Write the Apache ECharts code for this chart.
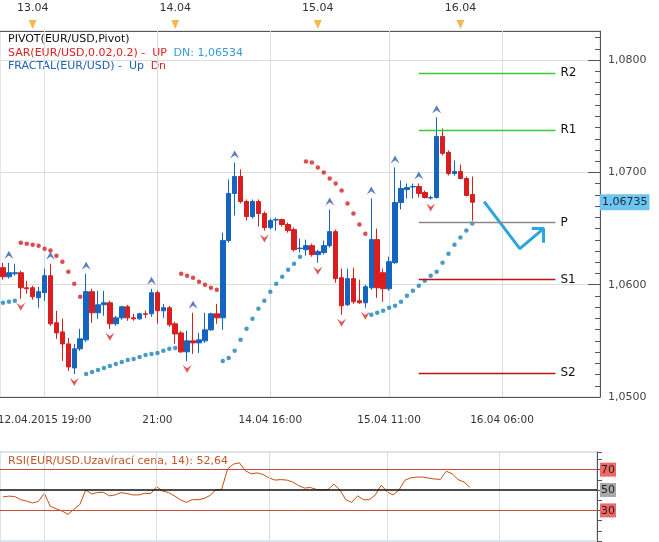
<!DOCTYPE html>
<html>
<head>
<meta charset="utf-8">
<script src="https://cdn.jsdelivr.net/npm/echarts@6/dist/echarts.min.js"></script>
<style>
  html, body { margin: 0; padding: 0; background: #fff; }
  #main { width: 659px; height: 542px; }
</style>
</head>
<body>
<div id="main"></div>
<script>
// hourly bars, 80 with data, rest empty space on the right
var candleCount = 101;
var categories = [];
for (var i = 0; i < candleCount; i++) categories.push(String(i));

// [open, close, low, high]
var candles = [
  [1.06152,1.06071,1.06045,1.06196],[1.06071,1.06107,1.06054,1.06196],[1.06098,1.06107,1.06080,1.06187],
  [1.06107,1.05973,1.05875,1.06125],[1.05973,1.05964,1.05920,1.06036],[1.05973,1.05893,1.05866,1.05991],
  [1.05884,1.05938,1.05795,1.05982],[1.05929,1.06080,1.05857,1.06143],[1.06080,1.05652,1.05634,1.06187],
  [1.05661,1.05571,1.05518,1.05768],[1.05580,1.05473,1.05321,1.05696],[1.05473,1.05268,1.05232,1.05527],
  [1.05259,1.05429,1.05205,1.05473],[1.05429,1.05518,1.05411,1.05607],[1.05509,1.05938,1.05491,1.06098],
  [1.05938,1.05750,1.05661,1.05964],[1.05750,1.05821,1.05696,1.05946],[1.05821,1.05839,1.05723,1.05946],
  [1.05839,1.05652,1.05607,1.05857],[1.05652,1.05705,1.05634,1.05723],[1.05705,1.05804,1.05688,1.05812],
  [1.05804,1.05705,1.05679,1.05821],[1.05705,1.05696,1.05679,1.05741],[1.05696,1.05741,1.05688,1.05750],
  [1.05741,1.05737,1.05705,1.05768],[1.05741,1.05929,1.05714,1.05964],[1.05929,1.05768,1.05652,1.05946],
  [1.05768,1.05795,1.05705,1.05830],[1.05795,1.05643,1.05625,1.05812],[1.05652,1.05562,1.05473,1.05670],
  [1.05571,1.05402,1.05393,1.05589],[1.05402,1.05500,1.05321,1.05589],[1.05500,1.05482,1.05384,1.05750],
  [1.05482,1.05509,1.05393,1.05571],[1.05500,1.05598,1.05482,1.05750],[1.05598,1.05741,1.05589,1.05750],
  [1.05741,1.05705,1.05652,1.05830],[1.05705,1.06393,1.05598,1.06464],[1.06393,1.06813,1.06375,1.06938],
  [1.06813,1.06964,1.06616,1.07089],[1.06964,1.06741,1.06723,1.07027],[1.06741,1.06607,1.06571,1.06759],
  [1.06607,1.06741,1.06589,1.06759],[1.06741,1.06634,1.06518,1.06759],[1.06634,1.06509,1.06482,1.06652],
  [1.06509,1.06571,1.06491,1.06589],[1.06576,1.06580,1.06482,1.06598],[1.06580,1.06536,1.06518,1.06589],
  [1.06536,1.06482,1.06464,1.06554],[1.06491,1.06312,1.06295,1.06509],[1.06321,1.06326,1.06286,1.06411],
  [1.06312,1.06348,1.06259,1.06402],[1.06348,1.06268,1.06250,1.06366],[1.06268,1.06295,1.06196,1.06312],
  [1.06286,1.06348,1.06268,1.06393],[1.06348,1.06473,1.06330,1.06670],[1.06473,1.06054,1.06018,1.06491],
  [1.06062,1.05812,1.05732,1.06143],[1.05821,1.06054,1.05812,1.06143],[1.06054,1.05848,1.05830,1.06152],
  [1.05857,1.05839,1.05830,1.06045],[1.05839,1.05982,1.05795,1.06000],[1.05973,1.06402,1.05955,1.06768],
  [1.06402,1.05973,1.05884,1.06500],[1.06107,1.05964,1.05848,1.06143],[1.05964,1.06205,1.05946,1.06250],
  [1.06196,1.06732,1.06187,1.07045],[1.06732,1.06857,1.06670,1.06929],[1.06848,1.06866,1.06768,1.06902],
  [1.06871,1.06875,1.06768,1.06902],[1.06875,1.06813,1.06777,1.06902],[1.06821,1.06777,1.06768,1.06839],
  [1.06772,1.06777,1.06759,1.06795],[1.06777,1.07321,1.06768,1.07491],[1.07321,1.07170,1.07152,1.07393],
  [1.07179,1.06991,1.06973,1.07196],[1.06991,1.07009,1.06973,1.07107],[1.07009,1.06946,1.06938,1.07071],
  [1.06946,1.06795,1.06786,1.06964],[1.06804,1.06735,1.06571,1.06964]
];

var sarValues = [
  1.05839,1.05848,1.05857,
  1.06375,1.06366,1.06357,1.06348,1.06321,1.06304,1.06259,1.06205,1.06116,1.06009,1.05893,
  1.05205,1.05223,1.05241,1.05259,1.05277,1.05295,1.05312,1.05330,1.05339,1.05357,1.05375,1.05384,1.05393,1.05411,1.05429,1.05437,
  1.06098,1.06080,1.06062,1.06027,1.06000,1.05973,1.05955,
  1.05321,1.05348,1.05411,1.05509,1.05607,1.05696,1.05786,1.05857,1.05938,1.06009,1.06071,1.06134,1.06187,1.06250,
  1.07098,1.07089,1.07045,1.07000,1.06946,1.06902,1.06839,1.06723,1.06634,1.06536,1.06455,
  1.05732,1.05750,1.05768,1.05795,1.05812,1.05848,1.05902,1.05946,1.05991,1.06036,1.06080,1.06116,1.06196,1.06277,1.06357,1.06420,1.06482,1.06545
];
var sarAboveRanges = [[3, 13], [30, 36], [51, 61]];

var fractalUpIdx = [1, 8, 14, 25, 32, 39, 55, 62, 66, 70, 73];
var fractalDnIdx = [3, 12, 18, 31, 44, 53, 57, 61, 72];

var rsiValues = [
  43.3,44,43.6,40.5,39.2,37.3,38.9,46.8,34.1,31.6,29.4,26.2,31,35.7,50,46.2,47.5,47.8,44.3,45.2,
  47.5,46.5,45.2,45.2,46.8,46.5,53.2,49,47.5,44.3,40.5,37.9,40.5,40.5,41.7,44.6,50,50.6,70.6,75.4,
  76.7,69,65.9,66.8,65.2,62,59.8,60.2,59.8,57.9,54.4,51.9,52.5,50.6,50,50.6,55.7,50,40.5,37.9,
  44.3,40.5,40.5,45.2,54.8,48.1,45.2,50,59.5,62,62.7,62.7,61.7,60.8,60.5,68.4,65.9,60.2,57.9,52.6
];

var pivotNames = ['R2', 'R1', 'P', 'S1', 'S2'];
var pivotValues = [1.07884, 1.07375, 1.06554, 1.06045, 1.05214];
var pivotColors = ['#33cc33', '#33cc33', '#888888', '#c01010', '#c01010'];
var pivotRange = [70, 93];
var lastPrice = 1.06735;

var dayLabels = ['13.04', '14.04', '15.04', '16.04'];
var dayIdx = [5, 29, 53, 77];
var timeLabels = ['12.04.2015 19:00', '21:00', '14.04 16:00', '15.04 11:00', '16.04 06:00'];
var timeIdx = [7, 26, 45, 65, 84];

var arrowPath = [[81, 1.06741], [87, 1.06321], [91, 1.06500]];
var arrowHead = [[89, 1.06500], [91, 1.06500], [91, 1.06375]];

var sarRed = [], sarBlue = [];
sarValues.forEach(function (v, i) {
  var above = sarAboveRanges.some(function (r) { return i >= r[0] && i <= r[1]; });
  (above ? sarRed : sarBlue).push([i, v]);
});
var fracUp = fractalUpIdx.map(function (k) { return [k, candles[k][3]]; });
var fracDn = fractalDnIdx.map(function (k) { return [k, candles[k][2]]; });

function fmtPrice(v, d) { return v.toFixed(d).replace('.', ','); }

var chart = echarts.init(document.getElementById('main'));
var font = 'DejaVu Sans';
var isTime = function (idx) { return timeIdx.indexOf(idx) >= 0; };
var vGrid = timeIdx.map(function (k) {
  return { xAxis: k, lineStyle: { color: '#dcdcdc', width: 1, type: 'solid' }, label: { show: false } };
});

var pivotSeries = pivotValues.map(function (v, k) {
  return {
    type: 'line', xAxisIndex: 0, yAxisIndex: 0, data: [], showSymbol: false,
    markLine: { silent: true, symbol: 'none',
      lineStyle: { color: pivotColors[k], width: 1.4, type: 'solid', opacity: 1 },
      label: { show: true, position: 'end', formatter: pivotNames[k], color: '#111', fontSize: 12,
        fontFamily: font, padding: [14, 0, 0, 0] },
      data: [[{ coord: [pivotRange[0], v] }, { coord: [pivotRange[1], v] }]] }
  };
});

var option = {
  animation: false,
  backgroundColor: '#fff',
  textStyle: { fontFamily: font },
  grid: [
    { left: 0, right: 59, top: 31, height: 366, show: true, borderColor: '#c8d0d8', borderWidth: 1, outerBoundsMode: 'none' },
    { left: 0, right: 62, top: 452, height: 89, show: true, borderColor: '#b8c8d8', borderWidth: 1, outerBoundsMode: 'none' },
    { left: 0, right: 59, top: 18, height: 13, outerBoundsMode: 'none' }
  ],
  xAxis: [
    { type: 'category', data: categories, gridIndex: 0,
      axisLine: { lineStyle: { color: '#555' } },
      axisTick: { interval: 2, length: 6, lineStyle: { color: '#555' } },
      axisLabel: { interval: function (idx) { return isTime(idx); }, margin: 18, color: '#333', fontSize: 10.5,
        hideOverlap: false,
        formatter: function (v, idx) { return timeLabels[timeIdx.indexOf(idx)] || ''; } },
      splitLine: { show: false } },
    { type: 'category', data: categories, gridIndex: 1,
      axisLine: { show: false }, axisTick: { show: false }, axisLabel: { show: false }, splitLine: { show: false } },
    { type: 'category', data: categories, gridIndex: 2, position: 'top',
      axisLine: { lineStyle: { color: '#555' } },
      axisTick: { interval: 2, inside: true, length: 6, lineStyle: { color: '#555' } },
      axisLabel: { interval: function (idx) { return dayIdx.indexOf(idx) >= 0; }, margin: 4, color: '#333', fontSize: 11,
        formatter: function (v, idx) { return dayLabels[dayIdx.indexOf(idx)] || ''; } } }
  ],
  yAxis: [
    { type: 'value', gridIndex: 0, position: 'right', min: 1.05, max: 1.0826, interval: 0.01,
      axisLine: { show: true, lineStyle: { color: '#555' } },
      axisTick: { show: true, inside: true, length: 12, lineStyle: { color: '#555' } },
      axisLabel: { color: '#444', fontSize: 11, margin: 8, showMaxLabel: false,
        formatter: function (v) { return fmtPrice(v, 4); } },
      splitLine: { show: true, lineStyle: { color: '#dcdcdc' } } },
    { type: 'value', gridIndex: 0, position: 'right', min: 1.05, max: 1.0826, interval: 0.001,
      axisLine: { show: false }, axisLabel: { show: false }, splitLine: { show: false },
      axisTick: { show: true, inside: true, length: 5, lineStyle: { color: '#555' } } },
    { type: 'value', gridIndex: 1, position: 'right', min: 0, max: 87.3, interval: 10,
      axisLine: { show: true, lineStyle: { color: '#555' } },
      axisTick: { show: true, length: 5, lineStyle: { color: '#555' } },
      axisLabel: { margin: 3, fontSize: 11, color: '#222',
        formatter: function (v) { return v === 70 ? '{r|70}' : v === 30 ? '{r|30}' : v === 50 ? '{g|50}' : ''; },
        rich: { r: { backgroundColor: '#f06868', padding: [2, 1, 1, 1], fontSize: 11, fontFamily: font, color: '#222' },
                g: { backgroundColor: '#a8a8a8', padding: [2, 1, 1, 1], fontSize: 11, fontFamily: font, color: '#222' } } },
      splitLine: { show: false } },
    { type: 'value', gridIndex: 2, min: 0, max: 1, show: false }
  ],
  graphic: [
    { type: 'text', left: 8, top: 34, style: { text: 'PIVOT(EUR/USD,Pivot)', fill: '#111', font: '11px "DejaVu Sans"' } },
    { type: 'text', left: 8, top: 47, style: {
      text: '{a|SAR(EUR/USD,0.02,0.2) -  UP}  {b|DN: 1,06534}',
      rich: { a: { fill: '#e02020', font: '11px "DejaVu Sans"' }, b: { fill: '#3a9ad6', font: '11px "DejaVu Sans"' } } } },
    { type: 'text', left: 8, top: 60, style: {
      text: '{a|FRACTAL(EUR/USD) -  Up}  {b|Dn}',
      rich: { a: { fill: '#2062b4', font: '11px "DejaVu Sans"' }, b: { fill: '#e02020', font: '11px "DejaVu Sans"' } } } },
    { type: 'text', left: 8, top: 456, style: { text: 'RSI(EUR/USD.Uzavírací cena, 14): 52,64', fill: '#c0582a', font: '11px "DejaVu Sans"' } }
  ],
  series: [
    { type: 'candlestick', xAxisIndex: 0, yAxisIndex: 0, data: candles, barWidth: 5, z: 3,
      itemStyle: { color: '#1464c0', color0: '#d81e1e', borderColor: '#1464c0', borderColor0: '#d81e1e', borderWidth: 1 },
      markLine: { silent: true, symbol: 'none', z: 1, data: vGrid } },
    { type: 'scatter', xAxisIndex: 0, yAxisIndex: 0, data: sarRed, symbol: 'circle', symbolSize: 4.5,
      itemStyle: { color: '#d81e1e' } },
    { type: 'scatter', xAxisIndex: 0, yAxisIndex: 0, data: sarBlue, symbol: 'circle', symbolSize: 4.5,
      itemStyle: { color: '#1a82b8' } },
    { type: 'scatter', xAxisIndex: 0, yAxisIndex: 0, data: fracUp, symbol: 'path://M0,10L5,0L10,10L5,6Z',
      symbolSize: [9, 8], symbolOffset: [0, -8], itemStyle: { color: '#2a5fb0' } },
    { type: 'scatter', xAxisIndex: 0, yAxisIndex: 0, data: fracDn, symbol: 'path://M0,0L5,10L10,0L5,4Z',
      symbolSize: [9, 8], symbolOffset: [0, 8], itemStyle: { color: '#d83030' } },
    { type: 'line', xAxisIndex: 0, yAxisIndex: 0, data: arrowPath, showSymbol: false,
      lineStyle: { color: '#2aa6de', width: 3 },
      markLine: { silent: true, symbol: 'none',
        lineStyle: { color: 'rgba(0,0,0,0)', width: 0 },
        label: { show: true, position: 'end', distance: 3, formatter: fmtPrice(lastPrice, 5),
          backgroundColor: '#6cc6f0', color: '#1a2a3a', padding: [3, 2, 2, 2], fontSize: 11, fontFamily: font },
        data: [[{ coord: [0, lastPrice] }, { coord: [100, lastPrice] }]] } },
    { type: 'line', xAxisIndex: 0, yAxisIndex: 0, data: arrowHead, showSymbol: false,
      lineStyle: { color: '#2aa6de', width: 3 } },
    { type: 'line', xAxisIndex: 1, yAxisIndex: 2, data: rsiValues, showSymbol: false, z: 3,
      lineStyle: { color: '#c05010', width: 1 },
      markLine: { silent: true, symbol: 'none', label: { show: false },
        data: vGrid.concat([
          { yAxis: 70, lineStyle: { color: '#d04a3a', width: 1, type: 'solid' } },
          { yAxis: 50, lineStyle: { color: '#111', width: 1.5, type: 'solid' } },
          { yAxis: 30, lineStyle: { color: '#d04a3a', width: 1, type: 'solid' } }
        ]) } },
    { type: 'scatter', xAxisIndex: 2, yAxisIndex: 3, data: dayIdx.map(function (k) { return [k, 0.5]; }),
      symbol: 'triangle', symbolRotate: 180, symbolSize: [8, 9], itemStyle: { color: '#f5a623' } }
  ].concat(pivotSeries)
};
chart.setOption(option);
</script>
</body>
</html>
